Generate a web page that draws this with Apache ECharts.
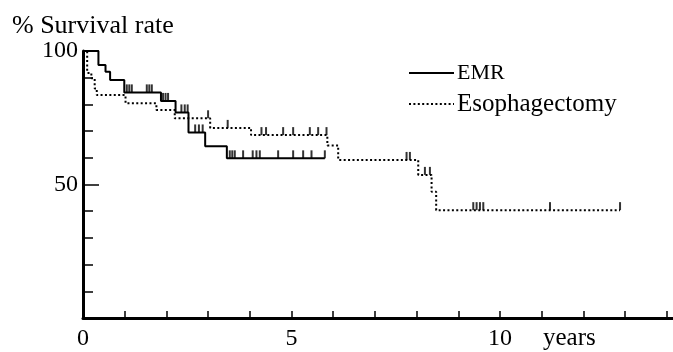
<!DOCTYPE html>
<html>
<head>
<meta charset="utf-8">
<script src="https://cdn.jsdelivr.net/npm/echarts@6/dist/echarts.min.js"></script>
<style>html,body{margin:0;padding:0;background:#fff}#c{width:673px;height:352px}</style>
</head>
<body>
<div id="c"></div>
<script>
// Kaplan-Meier step data (time in years, survival %)
const emrTimes = [0, 0.37, 0.54, 0.65, 0.99, 1.87, 2.22, 2.53, 2.93, 3.45, 5.8];
const emrSurv  = [100, 94.8, 92.2, 89.1, 84.5, 81.3, 77.0, 69.5, 64.3, 59.8, 59.8];
const emrCensor = [1.05, 1.11, 1.17, 1.53, 1.59, 1.65, 1.92, 1.98, 2.04, 2.36, 2.44, 2.51,
                   2.69, 2.78, 2.87, 3.52, 3.58, 3.64, 3.84, 4.07, 4.16, 4.24, 4.68, 5.04, 5.28, 5.48, 5.8];

const esoTimes = [0, 0.1, 0.2, 0.28, 0.33, 1.02, 1.76, 2.2, 3.05, 4.03, 5.86, 6.12, 8.04, 8.36, 8.47, 12.88];
const esoSurv  = [100, 91.8, 89.8, 86.0, 83.5, 80.4, 77.9, 74.8, 71.2, 68.5, 64.6, 59.2, 53.6, 47.3, 40.4, 40.4];
const esoCensor = [3.0, 3.47, 4.28, 4.39, 4.80, 5.04, 5.44, 5.64, 5.84, 7.76, 7.84, 8.2, 8.32,
                   9.36, 9.44, 9.52, 9.6, 11.2, 12.88];

const xTickLabels = [0, 5, 10];
const yTickLabels = [50, 100];
const seriesNames = ['EMR', 'Esophagectomy'];

function survAt(times, surv, t) {
  let s = surv[0];
  for (let i = 0; i < times.length; i++) { if (times[i] <= t) s = surv[i]; }
  return s;
}
const zip = (a, b) => a.map((v, i) => [v, b[i]]);

const FONT = "'Liberation Serif','DejaVu Serif',serif";
const chart = echarts.init(document.getElementById('c'), null, {renderer: 'canvas'});
chart.setOption({
  animation: false,
  backgroundColor: '#fff',
  grid: {left: 83, right: 0, top: 51, bottom: 34, containLabel: false},
  legend: {
    orient: 'vertical', left: 403, top: 54, itemWidth: 45, itemHeight: 14, itemGap: 3,
    selectedMode: false,
    itemStyle: {opacity: 0, color: 'rgba(0,0,0,0)', borderWidth: 0},
    data: [
      {name: seriesNames[0], textStyle: {fontSize: 22}},
      {name: seriesNames[1], textStyle: {fontSize: 25}}
    ],
    textStyle: {fontFamily: FONT, color: '#000', lineHeight: 28, padding: [0, 0, 0, -2]}
  },
  xAxis: {
    type: 'value', min: 0, max: 14.15, interval: 1,
    axisLine: {show: true, lineStyle: {color: '#000', width: 3}},
    axisTick: {show: true, inside: true, length: 7, lineStyle: {color: '#000', width: 1.5}},
    splitLine: {show: false},
    axisLabel: {
      margin: 9, color: '#000', fontSize: 24, fontFamily: FONT, showMaxLabel: false,
      formatter: v => xTickLabels.includes(v) ? String(v) : ''
    }
  },
  yAxis: [{
    type: 'value', min: 0, max: 100, interval: 10,
    axisLine: {show: true, lineStyle: {color: '#000', width: 3}},
    axisTick: {show: true, inside: true, length: 10, lineStyle: {color: '#000', width: 1.5}},
    splitLine: {show: false},
    axisLabel: {
      margin: 5, color: '#000', fontSize: 24, fontFamily: FONT,
      formatter: v => yTickLabels.includes(v) ? String(v) : ''
    }
  }, {
    type: 'value', min: 0, max: 100, interval: 50, position: 'left',
    axisLine: {show: false},
    axisTick: {show: true, inside: true, length: 16, lineStyle: {color: '#000', width: 1.5}},
    splitLine: {show: false}, axisLabel: {show: false}
  }],
  graphic: [
    {type: 'text', left: 12, top: 13, style: {text: '% Survival rate', font: '26px ' + FONT, fill: '#000'}},
    {type: 'text', left: 543, top: 326, style: {text: 'years', font: '25px ' + FONT, fill: '#000'}}
  ],
  series: [
    {
      name: seriesNames[0], type: 'line', step: 'end', symbol: 'none',
      data: zip(emrTimes, emrSurv),
      lineStyle: {color: '#000', width: 2}, itemStyle: {color: '#000'}, z: 3
    },
    {
      name: seriesNames[1], type: 'line', step: 'end', symbol: 'none',
      data: zip(esoTimes, esoSurv),
      lineStyle: {color: '#000', width: 2, type: [2, 2.4]}, itemStyle: {color: '#000'}, z: 2
    },
    {
      name: 'EMR censored', type: 'scatter', symbol: 'rect', symbolSize: [2, 8], symbolOffset: [0, -4],
      data: emrCensor.map(t => [t, survAt(emrTimes, emrSurv, t)]),
      itemStyle: {color: '#000'}, silent: true, z: 4
    },
    {
      name: 'Eso censored', type: 'scatter', symbol: 'rect', symbolSize: [2, 8], symbolOffset: [0, -4],
      data: esoCensor.map(t => [t, survAt(esoTimes, esoSurv, t)]),
      itemStyle: {color: '#000'}, silent: true, z: 4
    }
  ]
});
</script>
</body>
</html>
